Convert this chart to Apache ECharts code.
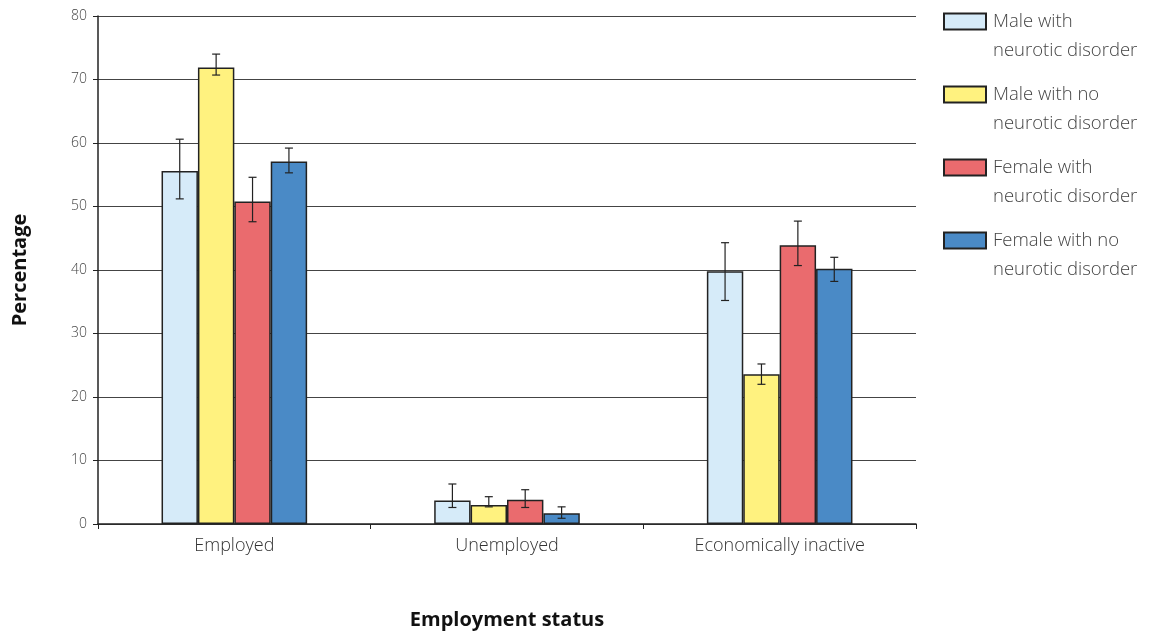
<!DOCTYPE html>
<html><head><meta charset="utf-8">
<script src="https://cdn.jsdelivr.net/npm/echarts@6/dist/echarts.min.js"></script>
<style>html,body{margin:0;padding:0;background:#fff;overflow:hidden}#c{width:1154px;height:635px}</style>
</head><body><div id="c"></div>
<script>
const categories = ['Employed', 'Unemployed', 'Economically inactive'];
const seriesNames = ['Male with\nneurotic disorder', 'Male with no\nneurotic disorder', 'Female with\nneurotic disorder', 'Female with no\nneurotic disorder'];
const maleNeurotic = [55.6, 3.7, 39.8];
const maleNoNeurotic = [71.9, 3.0, 23.6];
const femaleNeurotic = [50.8, 3.8, 43.9];
const femaleNoNeurotic = [57.1, 1.7, 40.2];
// error bar [low, high]
const maleNeuroticErr = [[51.2, 60.6], [2.6, 6.3], [35.2, 44.3]];
const maleNoNeuroticErr = [[70.7, 74.0], [2.7, 4.3], [22.0, 25.2]];
const femaleNeuroticErr = [[47.6, 54.6], [2.6, 5.4], [40.7, 47.7]];
const femaleNoNeuroticErr = [[55.3, 59.2], [0.9, 2.7], [38.2, 42.0]];
const yTicks = [0, 10, 20, 30, 40, 50, 60, 70, 80];

const values = [maleNeurotic, maleNoNeurotic, femaleNeurotic, femaleNoNeurotic];
const errs = [maleNeuroticErr, maleNoNeuroticErr, femaleNeuroticErr, femaleNoNeuroticErr];
const colors = ['#D6EBF9', '#FFF27F', '#EA6B6E', '#4A8AC6'];
const BW = 0.1335;
const FONT = '"Open Sans", Lato, sans-serif';

const series = [];
values.forEach((v, i) => {
  series.push({
    name: seriesNames[i], type: 'bar', data: v,
    barWidth: (BW * 100) + '%', barGap: '0%',
    itemStyle: { color: colors[i], borderColor: '#222', borderWidth: 1.5 },
    z: 2
  });
});
errs.forEach((e, i) => {
  series.push({
    type: 'custom', z: 5, silent: true,
    data: e.map((d, k) => [k, d[0], d[1]]),
    renderItem: function (params, api) {
      const k = api.value(0);
      const band = api.size([1, 0])[0];
      const off = (i - 1.5) * band * BW;
      const lo = api.coord([k, api.value(1)]);
      const hi = api.coord([k, api.value(2)]);
      const x = lo[0] + off;
      const hw = 4;
      const st = { stroke: '#222', lineWidth: 1.2 };
      return { type: 'group', children: [
        { type: 'line', shape: { x1: x, y1: lo[1], x2: x, y2: hi[1] }, style: st },
        { type: 'line', shape: { x1: x - hw, y1: lo[1], x2: x + hw, y2: lo[1] }, style: st },
        { type: 'line', shape: { x1: x - hw, y1: hi[1], x2: x + hw, y2: hi[1] }, style: st }
      ]};
    }
  });
});

const chart = echarts.init(document.getElementById('c'), null, { renderer: 'canvas' });
chart.setOption({
  backgroundColor: '#fff',
  animation: false,
  textStyle: { fontFamily: FONT },
  grid: { left: 98, right: 238, top: 16, bottom: 102, containLabel: false },
  legend: {
    data: seriesNames,
    orient: 'vertical', left: 938, top: -27,
    icon: 'rect',
    itemWidth: 42, itemHeight: 16, itemGap: -14,
    formatter: n => '\n' + n,
    textStyle: { fontSize: 18.5, color: '#444', lineHeight: 29, fontFamily: FONT, fontWeight: 300, padding: [0, 0, 0, 2] }
  },
  xAxis: {
    type: 'category', data: categories,
    name: 'Employment status', nameLocation: 'middle', nameGap: 86,
    nameTextStyle: { fontSize: 20, fontWeight: 'bold', color: '#111', fontFamily: FONT },
    axisLine: { lineStyle: { color: '#222', width: 1.5 } },
    axisTick: { show: true, length: 5, lineStyle: { color: '#222' } },
    axisLabel: { fontSize: 18, color: '#333', margin: 13, fontWeight: 300 }
  },
  yAxis: {
    type: 'value', min: 0, max: 80, interval: 10,
    name: 'Percentage', nameLocation: 'middle', nameGap: 68, nameRotate: 90,
    nameTextStyle: { fontSize: 20, fontWeight: 'bold', color: '#111', fontFamily: FONT },
    axisLine: { show: true, lineStyle: { color: '#222', width: 1.5 } },
    axisTick: { show: true, length: 5, lineStyle: { color: '#222' } },
    axisLabel: { fontSize: 14, color: '#444', margin: 11, fontWeight: 300,
      formatter: v => yTicks.includes(v) ? String(v) : '' },
    splitLine: { lineStyle: { color: '#444', width: 1 } }
  },
  series: series
});
</script></body></html>
